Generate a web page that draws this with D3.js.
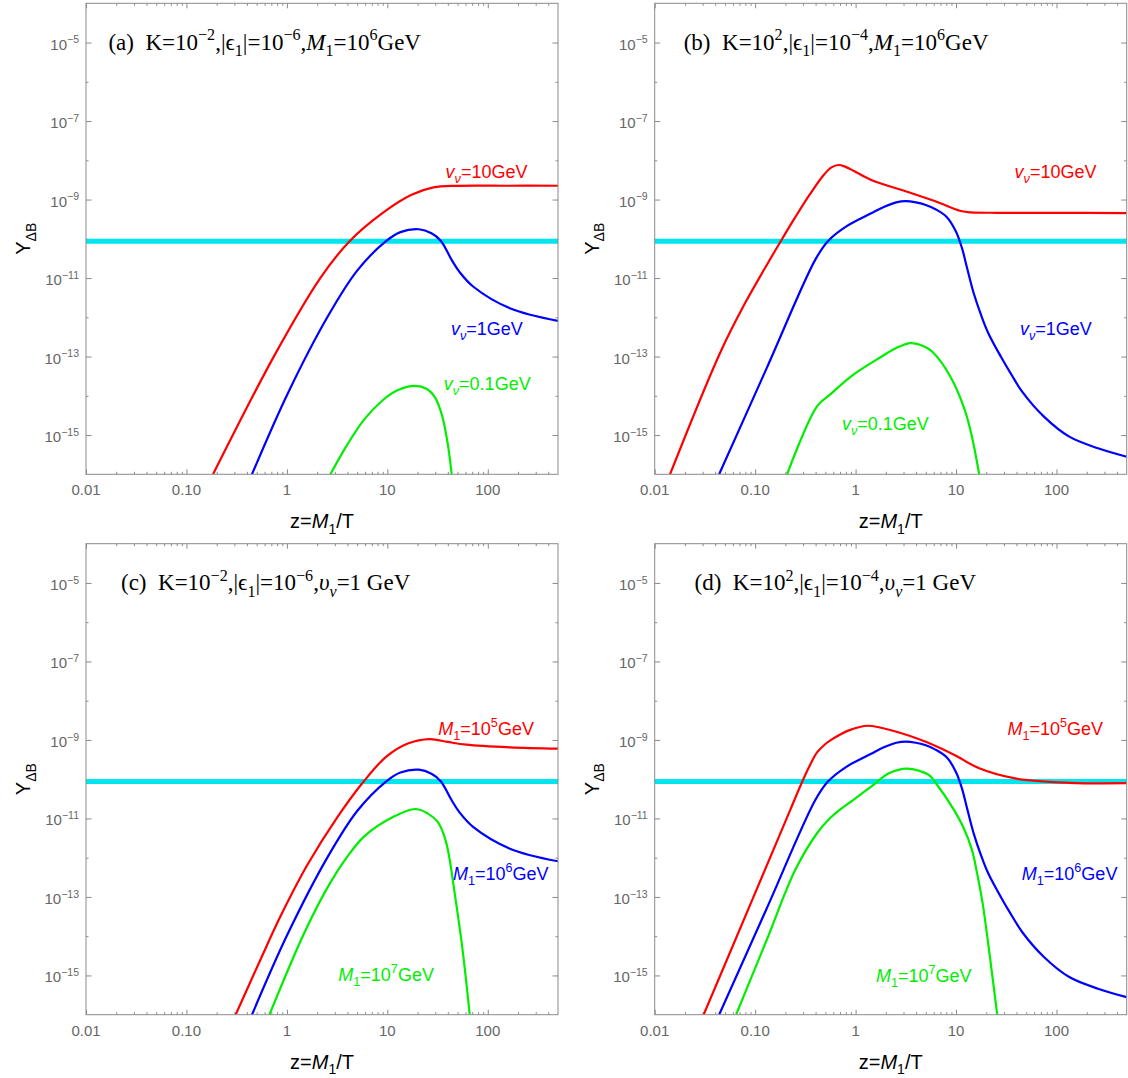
<!DOCTYPE html>
<html>
<head>
<meta charset="utf-8">
<script src="https://cdn.jsdelivr.net/npm/d3@7"></script>
<style>
  body { margin: 0; background: #fff; }
  svg { display: block; }
</style>
</head>
<body>
<div id="chart"></div>
<script>
// values, pairs of [z, Y_dB]
var zDomain = [0.01, 500];
var yDomain = [1e-16, 1e-4];
var xTickValues = [0.01, 0.1, 1, 10, 100];
var xTickLabels = ["0.01", "0.10", "1", "10", "100"];
var yTickExps = [-5, -7, -9, -11, -13, -15];
var yObserved = 8.7e-11;

// (a) K=1e-2, |eps1|=1e-6, M1=1e6 GeV
var a_v10 = [[0.184,1e-16],[0.759,1.12e-13],[2.15,1e-11],[4.21,8.7e-11],[8.93,4.5e-10],
  [17.4,1.32e-9],[28.8,2.04e-9],[50,2.24e-9],[150,2.25e-9],[500,2.25e-9]];
var a_v1 = [[0.449,1e-16],[1.02,1.15e-14],[2.55,1.05e-12],[5.01,1.55e-11],[9.7,8.7e-11],[13.5,1.48e-10],
  [20.6,1.75e-10],[27.5,1.38e-10],[34,8.9e-11],[43.7,2.9e-11],[52.5,1.41e-11],[71.9,6.0e-12],[166,1.7e-12],[500,8.1e-13]];
var a_v01 = [[2.71,1e-16],[3.87,5e-16],[5.89,2.5e-15],[8.93,7.6e-15],[12.6,1.38e-14],[18.9,1.78e-14],
  [24.5,1.51e-14],[30,8.9e-15],[35,3.2e-15],[39.8,6.3e-16],[43.7,1e-16]];

// (b) K=1e2, |eps1|=1e-4, M1=1e6 GeV
var b_v10 = [[0.0142,1e-16],[0.0445,1.2e-13],[0.0794,2.3e-12],[0.135,2.5e-11],[0.178,8.3e-11],[0.251,3.55e-10],
  [0.35,1.35e-9],[0.488,4.4e-9],[0.575,6.6e-9],[0.679,7.6e-9],[0.794,6.8e-9],[0.944,5.5e-9],[1.43,3.16e-9],
  [3.26,1.58e-9],[6.31,8.9e-10],[11.2,5.1e-10],[14.1,4.7e-10],[25.7,4.6e-10],[100,4.6e-10],[500,4.5e-10]];
var b_v1 = [[0.0438,1e-16],[0.13,5.0e-14],[0.396,2.9e-11],[0.53,8.7e-11],[0.802,2.04e-10],[1.43,4.47e-10],
  [1.91,6.5e-10],[2.54,8.5e-10],[3.16,9.1e-10],[3.98,8.5e-10],[4.92,7.4e-10],[6.31,5.6e-10],[8.07,3.6e-10],
  [10,1.51e-10],[11.5,5.6e-11],[12.9,1.78e-11],[15,4.1e-12],[17.8,1.12e-12],[20.9,4.0e-13],[27.9,1.0e-13],
  [35.5,3.5e-14],[45.7,1.26e-14],[75,2.95e-15],[134,9.1e-16],[259,4.6e-16],[500,2.8e-16]];
var b_v01 = [[0.208,1e-16],[0.413,5.4e-15],[0.575,1.15e-14],[0.944,3.4e-14],[1.82,1e-13],[2.54,1.66e-13],
  [3.53,2.2e-13],[4.72,1.86e-13],[5.81,1.32e-13],[8.77,3.1e-14],[12.2,4.4e-15],[14.4,9.1e-16],[17,1e-16]];

// (c) K=1e-2, |eps1|=1e-6, v=1 GeV  (M1=1e6 is the same curve as a_v1)
var c_M5 = [[0.309,1e-16],[0.562,3.0e-15],[0.861,3.16e-14],[1.585,6.3e-13],[3.16,1.05e-11],[5.89,9.1e-11],
  [9.7,3.7e-10],[16,8.1e-10],[26.4,1.05e-9],[39.8,8.9e-10],[61,7.6e-10],[166,6.5e-10],[500,6.0e-10]];
var c_M6 = a_v1;
var c_M7 = [[0.67,1e-16],[1.48,1.17e-14],[2.55,1.78e-13],[3.98,1.05e-12],[5.89,3.5e-12],[11.5,1.1e-11],
  [18.9,1.74e-11],[25.1,1.35e-11],[31.6,8.3e-12],[36.3,4.0e-12],[40.1,1.58e-12],[47.4,1.0e-13],
  [56.1,4.5e-15],[66.1,1e-16]];

// (d) K=1e2, |eps1|=1e-4, v=1 GeV  (M1=1e6 is the same curve as b_v1)
var d_M5 = [[0.0307,1e-16],[0.0933,8.3e-14],[0.222,1.58e-11],[0.297,9.1e-11],[0.355,2.4e-10],[0.413,4.8e-10],
  [0.501,7.9e-10],[0.575,1.02e-9],[0.871,1.78e-9],[1.32,2.3e-9],[2.55,1.62e-9],[4.92,9.1e-10],[9.53,4.2e-10],
  [17,1.9e-10],[38.7,1.05e-10],[134,8.1e-11],[500,7.9e-11]];
var d_M6 = b_v1;
var d_M7 = [[0.0646,1e-16],[0.13,7.9e-15],[0.251,4.9e-13],[0.413,4.2e-12],[0.552,1e-11],[0.679,1.58e-11],
  [0.944,2.95e-11],[1.43,6.5e-11],[2.15,1.41e-10],[3.26,1.86e-10],[5.35,1.29e-10],[6.31,7.9e-11],
  [9.53,1.66e-11],[11.7,6.3e-12],[14.4,1.58e-12],[16.2,4.0e-13],[18.5,6.3e-14],[21.8,2.8e-15],[25.7,1e-16]];

var RED = "#ff0000", BLUE = "#0000ff", GREEN = "#00ee00", CYAN = "#00e5ee";
var SANS = "'Liberation Sans', Arial, sans-serif";
var SERIF = "'Liberation Serif', 'Times New Roman', serif";

var width = 1128, height = 1078,
  pw = 472, ph = 471;

var x = d3.scaleLog().domain(zDomain).range([0, pw]);
var y = d3.scaleLog().domain(yDomain).range([ph, 0]);

var line = d3.line()
  .x(function(d) { return x(d[0]); })
  .y(function(d) { return y(d[1]); })
  .curve(d3.curveCatmullRom.alpha(0.5));

// minor x ticks: 2..9 in every decade
var xMinor = [];
for (var e = -2; e <= 2; e++) {
  for (var m = 2; m <= 9; m++) {
    var v = m * Math.pow(10, e);
    if (v < zDomain[1]) xMinor.push(v);
  }
}
var yMajor = yTickExps.map(function(k) { return Math.pow(10, k); });
var yMinor = [-14, -12, -10, -8, -6].map(function(k) { return Math.pow(10, k); });

// text with sub/superscripts, parts = [{t, s:'sub'|'sup', i:italic}]
function rich(sel, parts, fs) {
  var cur = 0;
  parts.forEach(function(p) {
    var off = p.s == "sub" ? 0.28 * fs : p.s == "sup" ? -0.42 * fs : 0;
    var ts = sel.append("tspan").attr("dy", off - cur).text(p.t);
    cur = off;
    if (p.s) ts.attr("font-size", fs * 0.7);
    if (p.i) ts.attr("font-style", "italic");
  });
}

function vLabel(val) {
  return [{t: "v", i: 1}, {t: "ν", s: "sub", i: 1}, {t: "=" + val + "GeV"}];
}
function mLabel(exp) {
  return [{t: "M", i: 1}, {t: "1", s: "sub"}, {t: "=10"}, {t: exp, s: "sup"}, {t: "GeV"}];
}
function title(tag, k, eps, last) {
  return [{t: tag + "\u2002K=10"}, {t: k, s: "sup"}, {t: ",|ϵ"}, {t: "1", s: "sub"}, {t: "|=10"},
    {t: eps, s: "sup"}, {t: ","}].concat(last);
}
var lastM = [{t: "M", i: 1}, {t: "1", s: "sub"}, {t: "=10"}, {t: "6", s: "sup"}, {t: "GeV"}];
var lastV = [{t: "υ", i: 1}, {t: "ν", s: "sub", i: 1}, {t: "=1 GeV"}];

var panels = [
  {id: "a", left: 86, top: 3.3, tx: 22.4, title: title("(a)", "−2", "−6", lastM), series: [
    {data: a_v10, color: RED, label: vLabel("10"), lx: 359.6, ly: 174.7},
    {data: a_v1, color: BLUE, label: vLabel("1"), lx: 365, ly: 331.7},
    {data: a_v01, color: GREEN, label: vLabel("0.1"), lx: 357.8, ly: 386.7}]},
  {id: "b", left: 654.7, top: 3.3, tx: 29, title: title("(b)", "2", "−4", lastM), series: [
    {data: b_v10, color: RED, label: vLabel("10"), lx: 359.9, ly: 174.7},
    {data: b_v1, color: BLUE, label: vLabel("1"), lx: 365.3, ly: 331.7},
    {data: b_v01, color: GREEN, label: vLabel("0.1"), lx: 187.3, ly: 426.7}]},
  {id: "c", left: 86, top: 543.7, tx: 35, title: title("(c)", "−2", "−6", lastV), series: [
    {data: c_M5, color: RED, label: mLabel("5"), lx: 352.3, ly: 191.3},
    {data: c_M6, color: BLUE, label: mLabel("6"), lx: 367, ly: 336.3},
    {data: c_M7, color: GREEN, label: mLabel("7"), lx: 252.3, ly: 437.3}]},
  {id: "d", left: 654.7, top: 543.7, tx: 39.8, title: title("(d)", "2", "−4", lastV), series: [
    {data: d_M5, color: RED, label: mLabel("5"), lx: 352.7, ly: 191.3},
    {data: d_M6, color: BLUE, label: mLabel("6"), lx: 367.1, ly: 336.3},
    {data: d_M7, color: GREEN, label: mLabel("7"), lx: 221.3, ly: 438.3}]}
];

var svg = d3.select("#chart")
  .append("svg")
  .attr("width", width)
  .attr("height", height)
  .style("font-family", SANS);

panels.forEach(drawPanel);

function styleAxis(g) {
  g.select(".domain").remove();
  g.selectAll(".tick line").attr("stroke", "#8a8a8a");
  g.selectAll(".tick text").remove();
}

function drawPanel(p) {
  var g = svg.append("g")
    .attr("transform", "translate(" + p.left + "," + p.top + ")");

  g.append("clipPath").attr("id", "clip-" + p.id)
    .append("rect").attr("width", pw).attr("height", ph);

  // ticks on all four sides, pointing inward
  g.append("g").attr("transform", "translate(0," + ph + ")")
    .call(d3.axisBottom(x).tickValues(xTickValues).tickSize(-5)).call(styleAxis);
  g.append("g").attr("transform", "translate(0," + ph + ")")
    .call(d3.axisBottom(x).tickValues(xMinor).tickSize(-2.5)).call(styleAxis);
  g.append("g")
    .call(d3.axisTop(x).tickValues(xTickValues).tickSize(-5)).call(styleAxis);
  g.append("g")
    .call(d3.axisTop(x).tickValues(xMinor).tickSize(-2.5)).call(styleAxis);
  g.append("g")
    .call(d3.axisLeft(y).tickValues(yMajor).tickSize(-5.5)).call(styleAxis);
  g.append("g")
    .call(d3.axisLeft(y).tickValues(yMinor).tickSize(-2.5)).call(styleAxis);
  g.append("g").attr("transform", "translate(" + pw + ",0)")
    .call(d3.axisRight(y).tickValues(yMajor).tickSize(-5.5)).call(styleAxis);
  g.append("g").attr("transform", "translate(" + pw + ",0)")
    .call(d3.axisRight(y).tickValues(yMinor).tickSize(-2.5)).call(styleAxis);

  // tick labels
  g.selectAll(".xlab")
    .data(xTickValues)
    .enter()
    .append("text")
    .attr("class", "xlab")
    .attr("x", function(d) { return x(d); })
    .attr("y", ph + 21)
    .attr("text-anchor", "middle")
    .attr("font-size", 15)
    .attr("fill", "#666")
    .text(function(d, i) { return xTickLabels[i]; });

  g.selectAll(".ylab")
    .data(yTickExps)
    .enter()
    .append("text")
    .attr("class", "ylab")
    .attr("x", -7)
    .attr("y", function(d) { return y(Math.pow(10, d)) + 7; })
    .attr("text-anchor", "end")
    .attr("font-size", 15)
    .attr("fill", "#666")
    .each(function(d) {
      rich(d3.select(this), [{t: "10"}, {t: "−" + Math.abs(d), s: "sup"}], 15);
    });

  // axis titles
  var xl = g.append("text")
    .attr("x", pw / 2)
    .attr("y", ph + 54)
    .attr("text-anchor", "middle")
    .attr("font-size", 20)
    .attr("fill", "#000");
  rich(xl, [{t: "z="}, {t: "M", i: 1}, {t: "1", s: "sub"}, {t: "/T"}], 20);

  var yl = g.append("text")
    .attr("transform", "translate(-56," + (ph / 2) + ") rotate(-90)")
    .attr("text-anchor", "middle")
    .attr("font-size", 20)
    .attr("fill", "#000");
  rich(yl, [{t: "Y"}, {t: "ΔB", s: "sub"}], 20);

  var plot = g.append("g").attr("clip-path", "url(#clip-" + p.id + ")");

  // observed asymmetry band
  plot.append("line")
    .attr("x1", x(zDomain[0]))
    .attr("x2", x(zDomain[1]))
    .attr("y1", y(yObserved))
    .attr("y2", y(yObserved))
    .attr("stroke", CYAN)
    .attr("stroke-width", 5);

  plot.selectAll(".curve")
    .data(p.series)
    .enter()
    .append("path")
    .attr("class", "curve")
    .attr("d", function(s) { return line(s.data); })
    .attr("fill", "none")
    .attr("stroke", function(s) { return s.color; })
    .attr("stroke-width", 2.2);

  // curve labels
  p.series.forEach(function(s) {
    var t = g.append("text")
      .attr("x", s.lx)
      .attr("y", s.ly)
      .attr("font-size", 18)
      .attr("fill", s.color);
    rich(t, s.label, 18);
  });

  // panel title
  var tt = g.append("text")
    .attr("x", p.tx)
    .attr("y", 46.7)
    .attr("font-family", SERIF)
    .attr("font-size", 23)
    .attr("fill", "#000");
  rich(tt, p.title, 23);

  // frame
  g.append("rect")
    .attr("width", pw)
    .attr("height", ph)
    .attr("fill", "none")
    .attr("stroke", "#8a8a8a")
    .attr("stroke-width", 1);
}
</script>
</body>
</html>
